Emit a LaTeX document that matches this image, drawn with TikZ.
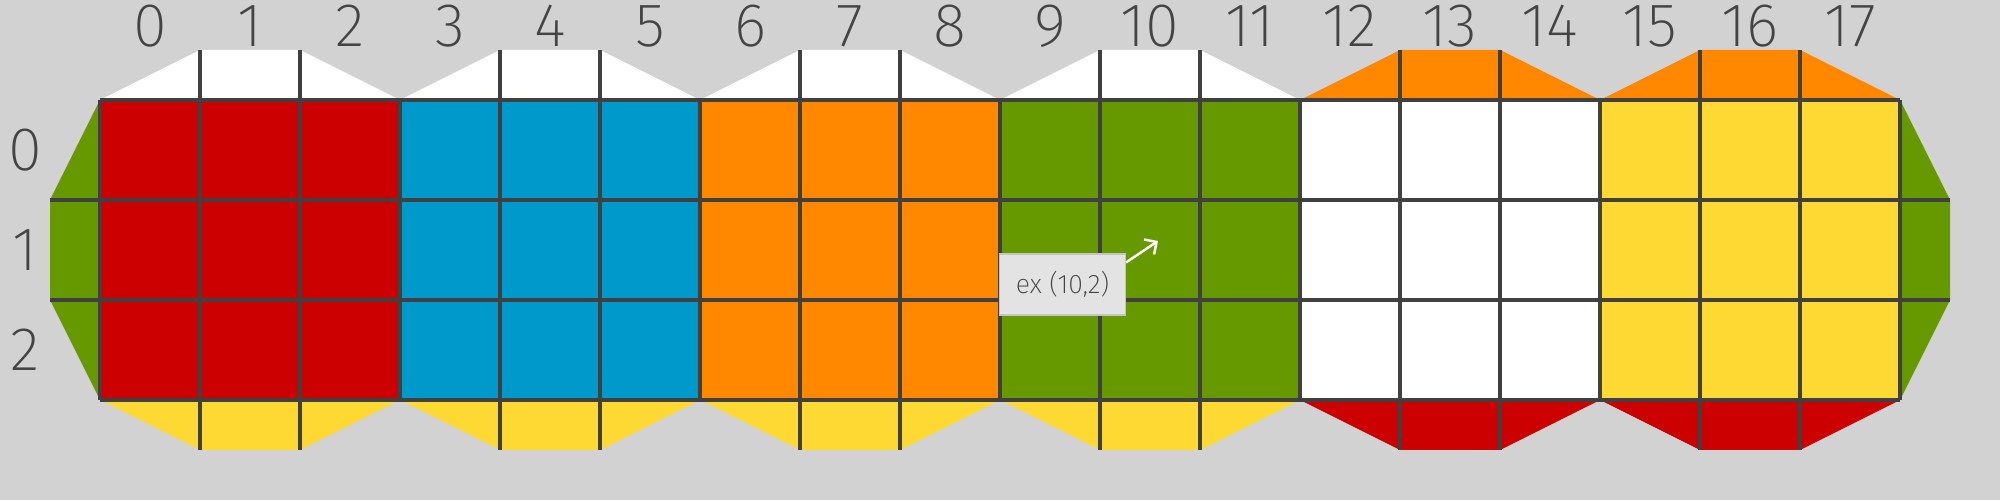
\documentclass[tikz,border=0pt]{standalone}
\usepackage{fontspec}
\setmainfont{Fira Sans ExtraLight}
\usetikzlibrary{arrows.meta}
\definecolor{bg}{HTML}{D2D2D2}
\definecolor{cred}{HTML}{CC0000}
\definecolor{cblue}{HTML}{0099CC}
\definecolor{corange}{HTML}{FF8800}
\definecolor{cgreen}{HTML}{669900}
\definecolor{cyellow}{HTML}{FFD933}
\definecolor{gridc}{HTML}{404040}
\definecolor{lbl}{HTML}{444444}
\definecolor{tagfill}{HTML}{E3E3E3}
\definecolor{tagline}{HTML}{C4C4C4}
\begin{document}
\begin{tikzpicture}[x=1cm,y=-1cm,
  gridline/.style={draw=gridc,line width=0.9pt},
  idx/.style={text=lbl,font=\fontsize{17.5}{20}\selectfont,inner sep=0pt},
  tag/.style={fill=tagfill,draw=tagline,line width=0.3pt,minimum width=1.26cm,minimum height=0.61cm,inner sep=0pt,text=lbl,font=\fontsize{7.6}{9}\selectfont},
  pointer/.style={draw=white,line width=0.7pt,-{Straight Barb[length=0.9mm,width=1.8mm]}}]
\useasboundingbox (0,0) rectangle (20,5);
\fill[bg] (0,0) rectangle (20,5);
% faces
\foreach \k/\c/\t/\b in {0/cred/white/cyellow,1/cblue/white/cyellow,2/corange/white/cyellow,3/cgreen/white/cyellow,4/white/corange/cred,5/cyellow/corange/cred}{
  \fill[\c] ({1+3*\k},1) rectangle ({4+3*\k},4);
  \fill[\t] ({1+3*\k},1) -- ({2+3*\k},0.5) -- ({3+3*\k},0.5) -- ({4+3*\k},1) -- cycle;
  \fill[\b] ({1+3*\k},4) -- ({2+3*\k},4.5) -- ({3+3*\k},4.5) -- ({4+3*\k},4) -- cycle;
  \draw[gridline] ({2+3*\k},0.5) -- ({2+3*\k},1) ({3+3*\k},0.5) -- ({3+3*\k},1);
  \draw[gridline] ({2+3*\k},4) -- ({2+3*\k},4.5) ({3+3*\k},4) -- ({3+3*\k},4.5);
}
% side faces
\fill[cgreen] (1,1) -- (0.5,2) -- (0.5,3) -- (1,4) -- cycle;
\fill[cgreen] (19,1) -- (19.5,2) -- (19.5,3) -- (19,4) -- cycle;
% grid
\foreach \i in {1,...,19}{
  \draw[gridline] (\i,1) -- (\i,4);
}
\draw[gridline] (1,1) -- (19,1);
\draw[gridline] (0.5,2) -- (19.5,2);
\draw[gridline] (0.5,3) -- (19.5,3);
\draw[gridline] (1,4) -- (19,4);
% column labels
\foreach \i in {0,...,17}{
  \node[idx,anchor=base] (c\i) at ({1.5+\i},0.47) {\i};
}
% row labels
\foreach \j in {0,1,2}{
  \node[idx] (r\j) at (0.25,{1.5+\j}) {\j};
}
% tag
\node[tag] (ex) at (10.625,2.845) {ex (10,2)};
\coordinate (extip) at (11.58,2.41);
\draw[pointer] ([yshift=-0.09cm]ex.north east) -- (extip);
\end{tikzpicture}
\end{document}
